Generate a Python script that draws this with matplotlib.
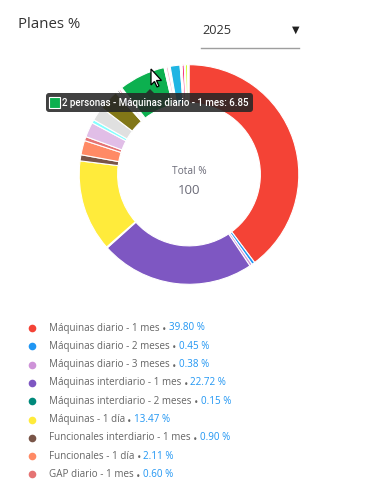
import matplotlib
matplotlib.use("Agg")
import matplotlib.pyplot as plt
from matplotlib.patches import FancyBboxPatch, Polygon, Rectangle

# ---------------- data ----------------
legend_labels = [
    "Máquinas diario - 1 mes",
    "Máquinas diario - 2 meses",
    "Máquinas diario - 3 meses",
    "Máquinas interdiario - 1 mes",
    "Máquinas interdiario - 2 meses",
    "Máquinas - 1 día",
    "Funcionales interdiario - 1 mes",
    "Funcionales - 1 día",
    "GAP diario - 1 mes",
]
legend_values = [39.80, 0.45, 0.38, 22.72, 0.15, 13.47, 0.90, 2.11, 0.60]
legend_colors = ["#f44336", "#2196f3", "#ce93d8", "#7e57c2", "#00897b",
                 "#ffeb3b", "#795548", "#ff8a65", "#e57373"]

# further plans (legend list is scrolled, only visible in the ring)
extra_labels = ["p10", "p11", "p12", "p13", "p14", "p15", "p16", "p17",
                "2 personas - Máquinas diario - 1 mes", "p19", "p20", "p21",
                "p22", "p23", "p24", "p25", "p26", "p27"]
extra_values = [2.2, 0.5, 2.1, 3.0, 0.3, 0.25, 0.25, 0.3, 6.85, 0.3, 0.3, 0.3,
                1.45, 0.3, 0.3, 0.2, 0.3, 0.2]
extra_colors = ["#e1bee7", "#84ffff", "#e0e0e0", "#827717", "#ffffff",
                "#757575", "#f06292", "#ffffff", "#0cb04f", "#ffffff",
                "#f8bbd0", "#ffffff", "#1fb5e3", "#ffffff", "#f50057",
                "#ffffff", "#c6ff00", "#ffffff"]

title = "Planes %"
year = "2025"
center_label = "Total %"
center_value = "100"
tooltip_label = "2 personas - Máquinas diario - 1 mes"
tooltip_value = 6.85

W, H = 380, 483
fig = plt.figure(figsize=(W / 100, H / 100), dpi=100)
fig.patch.set_facecolor("white")

FONT = ["Open Sans", "DejaVu Sans"]

# ---------------- donut ----------------
cx, cy, R = 189, 174.5, 112
ax = fig.add_axes([(cx - R) / W, 1 - (cy + R) / H, 2 * R / W, 2 * R / H])
vals = legend_values + extra_values
cols = legend_colors + extra_colors
ax.pie(vals, colors=cols, startangle=90, counterclock=False, radius=1,
       wedgeprops=dict(width=0.35, edgecolor="white", linewidth=0.8))
ax.set_xlim(-1.02, 1.02)
ax.set_ylim(-1.02, 1.02)
ax.set_aspect("equal")
ax.axis("off")

# ---------------- overlay in pixel coords ----------------
bg = fig.add_axes([0, 0, 1, 1])
bg.set_xlim(0, W)
bg.set_ylim(H, 0)
bg.axis("off")
bg.patch.set_alpha(0)

bg.text(18, 24, title, fontsize=10.8, color="#333333", va="center", ha="left", family=FONT)
bg.text(202, 30, year, fontsize=9.2, color="#333333", va="center", ha="left", family=FONT)
bg.text(296, 30, "▼", fontsize=7, color="#222222", va="center", ha="center", family=["DejaVu Sans"])
bg.plot([201, 299], [48, 48], color="#9e9e9e", lw=1)

bg.text(cx, 172, center_label, fontsize=7.3, color="#6b6b78", ha="center", va="center", family=FONT)
bg.text(cx, 190, center_value, fontsize=9.5, color="#6b6b78", ha="center", va="center", family=FONT)

# tooltip
tb = FancyBboxPatch((46, 93), 207, 19, boxstyle="round,pad=0,rounding_size=3",
                    facecolor="#262626", edgecolor="none", alpha=0.88, zorder=5)
bg.add_patch(tb)
bg.add_patch(Polygon([[146, 93], [154, 93], [150, 89]], closed=True,
                     facecolor="#262626", edgecolor="none", alpha=0.88, zorder=5))
bg.add_patch(Rectangle((49, 96.5), 11, 11, facecolor=extra_colors[8],
                       edgecolor="white", lw=0.8, zorder=6))
bg.text(62, 102.5, f"{tooltip_label}: {tooltip_value}", fontsize=7.05, color="white",
        va="center", ha="left", zorder=6, family=["Roboto", "DejaVu Sans"], weight="medium")

# cursor
cur = [[151, 69], [151, 85], [154.5, 81.5], [157, 87], [159, 86], [156.5, 80.5], [161.5, 80.5]]
bg.add_patch(Polygon(cur, closed=True, facecolor="white", edgecolor="black", lw=0.9, zorder=7))

# legend
y0, dy = 328, 18.3
for i, (lab, v, c) in enumerate(zip(legend_labels, legend_values, legend_colors)):
    y = y0 + i * dy
    bg.plot([32], [y], marker="o", ms=5.5, color=c, mec="none")
    t = bg.text(49, y, lab, fontsize=7.15, color="#666666", va="center", ha="left", family=FONT)
    b = bg.annotate("•", xy=(1, 0.5), xycoords=t, xytext=(1.5, -1.2), textcoords="offset points",
                    fontsize=5.5, color="#666666", va="center", ha="left", family=["DejaVu Sans"])
    bg.annotate(f"{v:.2f} %", xy=(1, 0.5), xycoords=b, xytext=(1.8, 1.2), textcoords="offset points",
                fontsize=7.15, color="#2196f3", va="center", ha="left", family=FONT)

fig.savefig("out.png", dpi=100, facecolor="white")
